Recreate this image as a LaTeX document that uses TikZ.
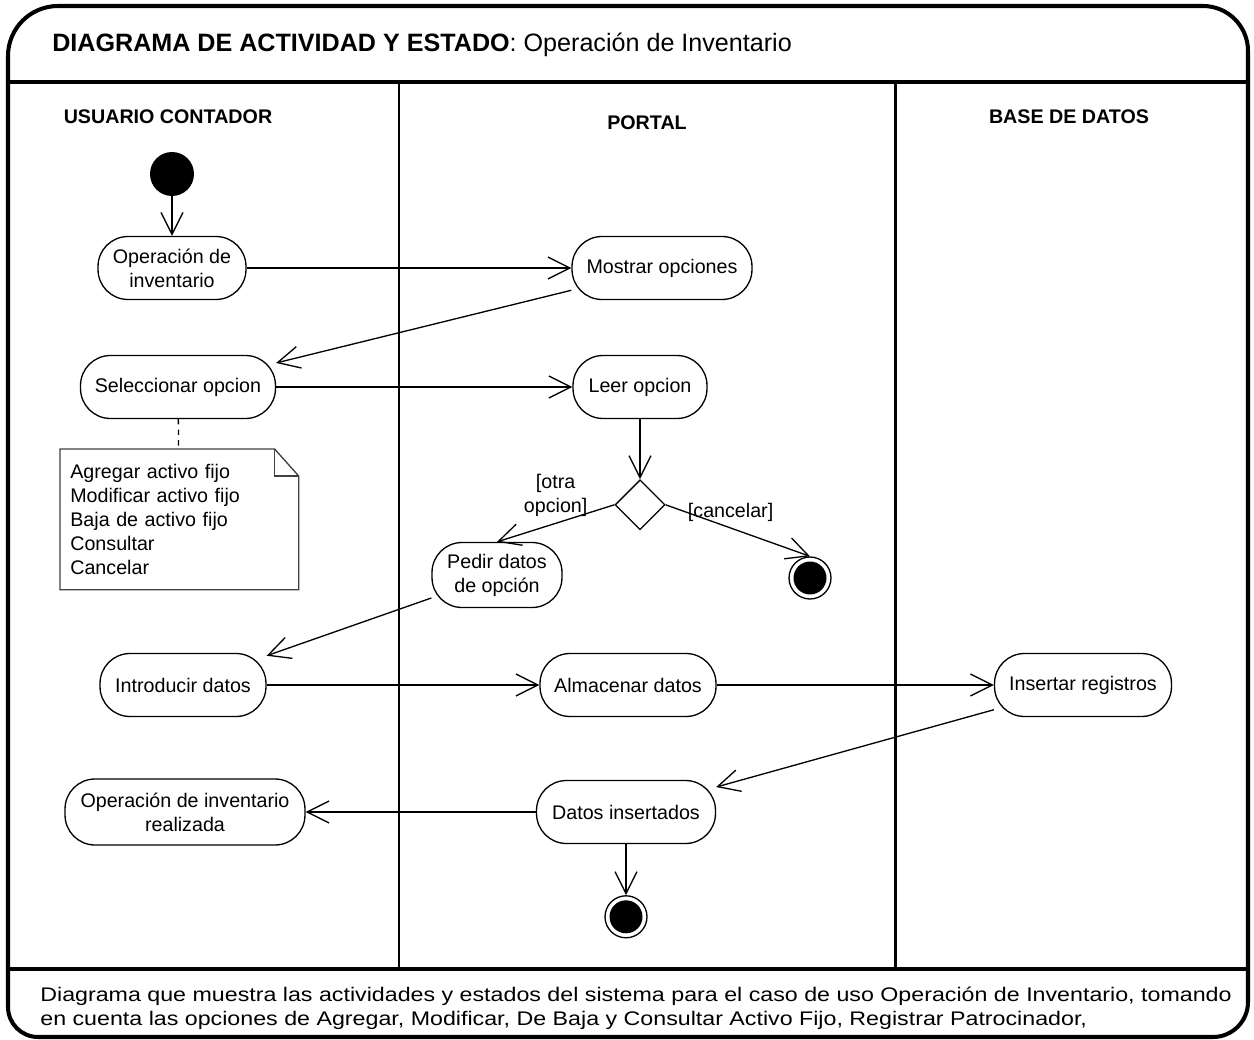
\documentclass[tikz,border=0pt]{standalone}
\usepackage{fontspec}
\setmainfont{Liberation Sans}
\usetikzlibrary{shapes.geometric,arrows.meta,positioning}

\begin{document}
\begin{tikzpicture}[
	x=0.02cm, y=-0.02cm,
	font=\fontsize{11.2pt}{13.6pt}\selectfont,
	>={Straight Barb[length=4.4mm,width=4.4mm]},
	actividad/.style={rectangle, rounded corners=0.6cm, draw, line width=0.75pt, minimum height=1.26cm, align=center, inner sep=2pt},
	inicio/.style={circle, fill=black, minimum size=0.88cm, inner sep=0pt},
	final/.style={circle, draw, line width=0.75pt, minimum size=0.84cm, inner sep=0pt, path picture={\fill (path picture bounding box.center) circle (0.33cm);}},
	dec/.style={diamond, draw, line width=0.75pt, minimum size=1cm, inner sep=0pt},
	carril/.style={font=\fontsize{11.2pt}{13.6pt}\selectfont\bfseries},
	nota/.style={minimum width=4.76cm, minimum height=2.8cm, text width=4.36cm, inner xsep=0.2cm, align=left},
	flecha/.style={->, line width=0.75pt},
	marco/.style={line width=2.3pt},
]
\useasboundingbox (0,0) rectangle (1254,1040);

% marco y carriles
\draw[marco] (8,56) arc[start angle=180,end angle=90,radius=1cm] -- (1203,6) arc[start angle=90,end angle=0,radius=0.9cm] -- (1248,1002) arc[start angle=0,end angle=-90,radius=0.7cm] -- (38,1037) arc[start angle=270,end angle=180,radius=0.6cm] -- cycle;
\draw[marco] (8,82) -- (1248,82);
\draw[marco] (8,969) -- (1248,969);
\draw[line width=1.7pt] (399,82) -- (399,969);
\draw[line width=1.7pt] (895,82) -- (895,969);

\node[anchor=west, inner sep=0pt, font=\fontsize{14.3pt}{17pt}\selectfont] (titulo) at (52,45) {\textbf{DIAGRAMA DE ACTIVIDAD Y ESTADO}: Operación de Inventario};
\node[carril] (usuario) at (168,117) {USUARIO CONTADOR};
\node[carril] (portal) at (647,123) {PORTAL};
\node[carril] (bd) at (1069,117) {BASE DE DATOS};

% nodos
\node[inicio] (ini) at (172,174) {};
\node[actividad, minimum width=2.96cm] (opinv) at (172,268) {Operación de\\inventario};
\node[actividad, minimum width=3.6cm] (mostrar) at (662,268) {Mostrar opciones};
\node[actividad, minimum width=3.9cm] (selec) at (178,387) {Seleccionar opcion};
\node[actividad, minimum width=2.68cm] (leer) at (640,387) {Leer opcion};
\node[nota, anchor=north west] (opciones) at (60,449) {Agregar activo fijo\\Modificar activo fijo\\Baja de activo fijo\\Consultar\\Cancelar};
\node[dec] (decision) [below=1.2cm of leer] {};
\node[actividad, minimum width=2.6cm, minimum height=1.3cm] (pedir) at (497,575) {Pedir datos\\de opción};
\node[final] (fin1) at (810,578) {};
\node[actividad, minimum width=3.32cm] (intro) at (183,685) {Introducir datos};
\node[actividad, minimum width=3.52cm] (almac) at (628,685) {Almacenar datos};
\node[actividad, minimum width=3.54cm] (insert) at (1083,685) {Insertar registros};
\node[actividad, minimum width=4.8cm, minimum height=1.32cm] (realiz) at (185,812) {Operación de inventario\\realizada};
\node[actividad, minimum width=3.58cm] (datins) at (626,812) {Datos insertados};
\node[final] (fin2) [below=1.02cm of datins] {};

\node[anchor=north west, inner sep=0pt] (pie) at (40,984) {\scalebox{1.18}[1]{\begin{tabular}{@{}l@{}}Diagrama que muestra las actividades y estados del sistema para el caso de uso Operación de Inventario, tomando\\[0.5pt]en cuenta las opciones de Agregar, Modificar, De Baja y Consultar Activo Fijo, Registrar Patrocinador,\end{tabular}}};

% nota
\draw[line width=0.75pt, black!75] (opciones.north west) -- ([xshift=-0.48cm]opciones.north east) -- ([yshift=-0.54cm]opciones.north east) -- (opciones.south east) -- (opciones.south west) -- cycle;
\draw[line width=0.75pt, black!75] ([xshift=-0.48cm]opciones.north east) |- ([yshift=-0.54cm]opciones.north east);
\draw[dashed, line width=0.75pt] (selec) -- (opciones);

% transiciones
\draw[flecha] (ini) -- (opinv);
\draw[flecha] (opinv) -- (mostrar);
\draw[flecha] (mostrar) -- (selec);
\draw[flecha] (selec) -- (leer);
\draw[flecha] (leer) -- (decision);
\draw[flecha] (decision.west) -- node[above, align=center] {[otra\\opcion]} (pedir.north);
\draw[flecha] (decision.east) -- node[pos=0.45, above] {[cancelar]} (fin1.north);
\draw[flecha] (pedir) -- (intro);
\draw[flecha] (intro) -- (almac);
\draw[flecha] (almac) -- (insert);
\draw[flecha] (insert) -- (datins);
\draw[flecha] (datins) -- (realiz);
\draw[flecha] (datins) -- (fin2);
\end{tikzpicture}
\end{document}
